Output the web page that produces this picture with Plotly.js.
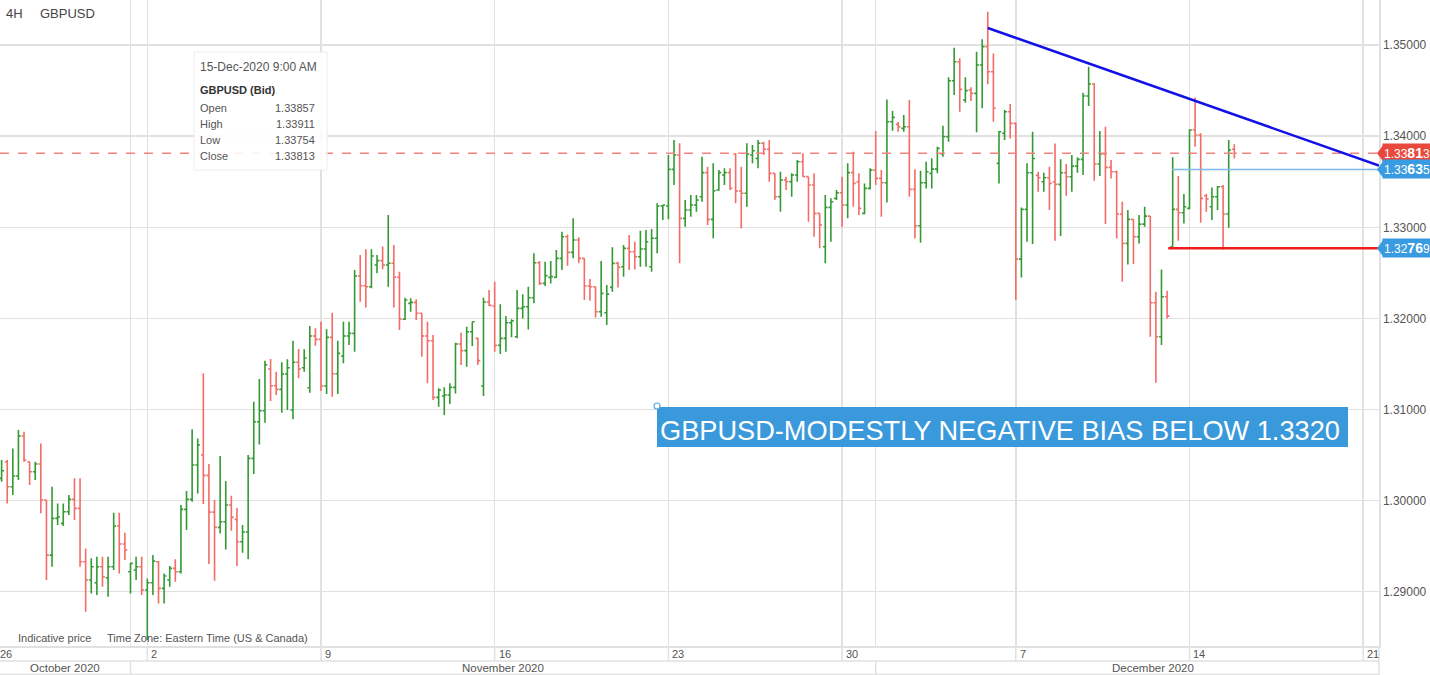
<!DOCTYPE html>
<html><head><meta charset="utf-8">
<script src="https://cdn.plot.ly/plotly-3.0.1.min.js"></script>
<style>html,body{margin:0;padding:0;background:#fff;overflow:hidden}#chart{width:1430px;height:675px}</style>
</head><body><div id="chart"></div>
<script>
// ---------------- DATA ----------------
const symbol = 'GBPUSD';
const timeframe = '4H';
const firstSlot = 5;            // slot index of first bar (slot 0 = Mon 26 Oct 00:00, 31 slots per week)
const barsPerWeek = 31;
const open = [
 1.30244,1.30427,1.30152,1.30270,1.30709,1.30427,1.30317,1.30401,1.30006,1.29402,
 1.29805,1.29750,1.29878,1.30013,1.29915,1.29329,1.29128,1.29098,1.29274,1.29153,
 1.29274,1.29721,1.29523,1.29219,1.29238,1.29274,1.29018,1.29098,1.29329,1.29036,
 1.29128,1.29256,1.29219,1.29904,1.30013,1.30390,1.30500,1.30277,1.29874,1.29706,
 1.29768,1.29951,1.29794,1.29548,1.29655,1.30464,1.30866,1.30987,1.31444,1.31261,
 1.31221,1.31389,1.30994,1.31518,1.31459,1.31239,1.31807,1.31770,1.31258,1.31792,
 1.31393,1.31587,1.31807,1.31836,1.32466,1.32359,1.32348,1.32586,1.32634,1.32586,
 1.32605,1.32451,1.31990,1.32165,1.32176,1.32056,1.31807,1.31755,1.31133,1.31148,
 1.31159,1.31243,1.31719,1.31646,1.31854,1.31781,1.31258,1.32180,1.32136,1.31704,
 1.31781,1.31953,1.31799,1.32110,1.32128,1.32227,1.32611,1.32384,1.32450,1.32450,
 1.32659,1.32897,1.32725,1.32860,1.32659,1.32355,1.32348,1.32073,1.32062,1.32340,
 1.32604,1.32567,1.32769,1.32732,1.32677,1.32761,1.32567,1.32879,1.33234,1.33234,
 1.33636,1.33794,1.33098,1.33190,1.33245,1.33336,1.33600,1.33087,1.33409,1.33574,
 1.33600,1.33804,1.33398,1.33373,1.33794,1.33757,1.33922,1.33856,1.33592,1.33336,
 1.33519,1.33501,1.33574,1.33720,1.33556,1.33464,1.33153,1.32787,1.33219,1.33318,
 1.33380,1.33245,1.33600,1.33500,1.33153,1.33427,1.33628,1.33537,1.33489,1.34159,
 1.34130,1.34086,1.34104,1.33416,1.33017,1.33489,1.33592,1.33639,1.33804,1.33994,
 1.34609,1.34818,1.34397,1.34507,1.34470,1.34781,1.34983,1.34708,1.33702,1.34031,
 1.34269,1.34141,1.32651,1.33197,1.33599,1.33570,1.33500,1.33544,1.33500,1.33471,
 1.33599,1.33555,1.33672,1.33746,1.34441,1.34573,1.33694,1.33804,1.33658,1.33610,
 1.33146,1.32823,1.33087,1.32896,1.33035,1.33123,1.32172,1.31799,1.32238,1.32787,
 1.33197,1.33160,1.33208,1.34068,1.34013,1.33347,1.33226,1.33336,1.33445,1.33146,
 1.33857];
const high = [
 1.30445,1.30445,1.30573,1.30775,1.30756,1.30427,1.30427,1.30628,1.30006,1.30152,
 1.29969,1.29969,1.30061,1.30244,1.30244,1.29475,1.29366,1.29384,1.29384,1.29384,
 1.29867,1.29867,1.29647,1.29318,1.29384,1.29384,1.29146,1.29402,1.29336,1.29201,
 1.29281,1.29355,1.29951,1.30105,1.30782,1.30683,1.31397,1.30401,1.30006,1.30489,
 1.30215,1.30054,1.29918,1.29732,1.30500,1.31086,1.31335,1.31536,1.31554,1.31415,
 1.31518,1.31551,1.31755,1.31664,1.31660,1.31917,1.31891,1.31964,1.31880,1.32063,
 1.31755,1.31964,1.31964,1.32531,1.32696,1.32758,1.32758,1.32696,1.32788,1.33135,
 1.32806,1.32513,1.32228,1.32220,1.32209,1.32056,1.31964,1.31818,1.31232,1.31243,
 1.31287,1.31734,1.31843,1.31909,1.31964,1.31788,1.32228,1.32312,1.32403,1.32154,
 1.32026,1.31990,1.32311,1.32264,1.32348,1.32714,1.32630,1.32622,1.32630,1.32750,
 1.32952,1.32922,1.33098,1.32890,1.32659,1.32432,1.32348,1.32630,1.32366,1.32780,
 1.32622,1.32805,1.32915,1.32842,1.32963,1.32970,1.32981,1.33263,1.33245,1.33794,
 1.33958,1.33922,1.33299,1.33354,1.33354,1.33775,1.33665,1.33702,1.33629,1.33647,
 1.33647,1.33812,1.33665,1.33922,1.33903,1.33958,1.33940,1.33958,1.33592,1.33611,
 1.33556,1.33592,1.33739,1.33812,1.33556,1.33592,1.33153,1.33354,1.33318,1.33409,
 1.33556,1.33702,1.33830,1.33592,1.33482,1.33647,1.34057,1.33628,1.34404,1.34276,
 1.34159,1.34232,1.34397,1.33636,1.33621,1.33720,1.33757,1.33885,1.34115,1.34646,
 1.34972,1.34855,1.34646,1.34536,1.34928,1.35063,1.35367,1.34909,1.34057,1.34287,
 1.34353,1.34148,1.33218,1.33702,1.34049,1.33610,1.33599,1.33665,1.33921,1.33746,
 1.33694,1.33793,1.33768,1.34478,1.34763,1.34580,1.34057,1.34104,1.33738,1.33621,
 1.33281,1.33189,1.33087,1.33134,1.33226,1.33123,1.32293,1.32538,1.32304,1.33768,
 1.33563,1.33365,1.34075,1.34426,1.34031,1.33365,1.33438,1.33453,1.33464,1.33958,
 1.33911];
const low = [
 1.30207,1.29969,1.30061,1.30226,1.30427,1.30171,1.30226,1.29860,1.29128,1.29274,
 1.29732,1.29721,1.29841,1.29786,1.29274,1.28780,1.28981,1.28963,1.29054,1.28945,
 1.29238,1.29201,1.29347,1.28981,1.29128,1.28963,1.28469,1.28963,1.28871,1.28871,
 1.29054,1.29109,1.29201,1.29677,1.29988,1.30079,1.29962,1.29303,1.29120,1.29640,
 1.29464,1.29669,1.29281,1.29428,1.29355,1.30292,1.30617,1.30855,1.31093,1.31159,
 1.30965,1.30994,1.30892,1.31342,1.31415,1.31185,1.31701,1.31203,1.31170,1.31141,
 1.31170,1.31507,1.31708,1.31635,1.32184,1.32121,1.32330,1.32495,1.32539,1.32348,
 1.32121,1.31873,1.31982,1.32074,1.31982,1.31580,1.31287,1.31104,1.31031,1.30939,
 1.31060,1.31177,1.31488,1.31470,1.31697,1.31488,1.31148,1.32136,1.31635,1.31609,
 1.31635,1.31792,1.31781,1.32000,1.31879,1.32165,1.32366,1.32355,1.32384,1.32447,
 1.32531,1.32578,1.32659,1.32604,1.32201,1.32194,1.32011,1.32018,1.31927,1.32293,
 1.32340,1.32458,1.32531,1.32538,1.32567,1.32567,1.32513,1.32714,1.33080,1.33087,
 1.33464,1.32604,1.33007,1.33116,1.33171,1.33281,1.33025,1.32879,1.33402,1.33464,
 1.33409,1.33263,1.32988,1.33226,1.33702,1.33647,1.33794,1.33501,1.33299,1.33171,
 1.33409,1.33336,1.33501,1.33556,1.33062,1.32897,1.32769,1.32604,1.32842,1.33299,
 1.33007,1.33098,1.33226,1.33134,1.33142,1.33416,1.33464,1.33116,1.33273,1.34060,
 1.34049,1.34049,1.33336,1.32878,1.32830,1.33427,1.33427,1.33592,1.33775,1.33940,
 1.34452,1.34269,1.34368,1.34386,1.34042,1.34306,1.34569,1.34159,1.33482,1.33958,
 1.33976,1.32201,1.32450,1.32842,1.32816,1.33391,1.33391,1.33189,1.32853,1.32904,
 1.33347,1.33391,1.33599,1.33574,1.34331,1.33511,1.33563,1.33035,1.33537,1.32878,
 1.32402,1.32593,1.32596,1.32823,1.33006,1.31799,1.31293,1.31707,1.32000,1.32787,
 1.32853,1.33043,1.33197,1.33885,1.33050,1.33171,1.33079,1.33189,1.32757,1.32995,
 1.33754];
const close = [
 1.30328,1.30152,1.30270,1.30709,1.30445,1.30317,1.30401,1.30006,1.29402,1.29805,
 1.29820,1.29878,1.30013,1.29915,1.29329,1.29128,1.29274,1.29274,1.29164,1.29274,
 1.29721,1.29523,1.29457,1.29311,1.29274,1.29018,1.29098,1.29336,1.29036,1.29172,
 1.29256,1.29219,1.29904,1.30013,1.30390,1.30610,1.30277,1.29874,1.29706,1.29768,
 1.29951,1.29816,1.29548,1.29655,1.30464,1.30866,1.30987,1.31492,1.31261,1.31221,
 1.31389,1.31459,1.31518,1.31444,1.31565,1.31807,1.31770,1.31258,1.31792,1.31393,
 1.31616,1.31807,1.31836,1.32466,1.32359,1.32348,1.32685,1.32634,1.32586,1.32605,
 1.32451,1.31993,1.32202,1.32176,1.32056,1.31807,1.31755,1.31133,1.31214,1.31159,
 1.31243,1.31719,1.31646,1.31854,1.31964,1.31536,1.32180,1.32143,1.31704,1.31781,
 1.31953,1.31975,1.32110,1.32128,1.32227,1.32611,1.32384,1.32469,1.32458,1.32659,
 1.32897,1.32725,1.32860,1.32659,1.32355,1.32348,1.32073,1.32275,1.32267,1.32604,
 1.32560,1.32769,1.32732,1.32677,1.32761,1.32842,1.32879,1.33234,1.33245,1.33636,
 1.33794,1.33098,1.33190,1.33245,1.33299,1.33600,1.33087,1.33402,1.33600,1.33600,
 1.33428,1.33398,1.33373,1.33804,1.33841,1.33922,1.33856,1.33592,1.33336,1.33519,
 1.33500,1.33574,1.33720,1.33556,1.33464,1.33153,1.33025,1.33219,1.33281,1.33380,
 1.33245,1.33600,1.33482,1.33208,1.33427,1.33628,1.33537,1.33489,1.34159,1.34207,
 1.34104,1.34104,1.33416,1.33017,1.33489,1.33610,1.33639,1.33866,1.33994,1.34609,
 1.34818,1.34514,1.34500,1.34470,1.34781,1.34983,1.34708,1.34306,1.34049,1.34269,
 1.34141,1.32651,1.33197,1.33599,1.33756,1.33544,1.33544,1.33482,1.33471,1.33599,
 1.33555,1.33672,1.33746,1.34441,1.34573,1.33694,1.33804,1.33658,1.33610,1.33146,
 1.32823,1.33087,1.32896,1.33035,1.33123,1.32172,1.31799,1.32238,1.32025,1.33197,
 1.33160,1.33226,1.34068,1.34013,1.33317,1.33310,1.33336,1.33445,1.33146,1.33848,
 1.33813];
const weekLabels = ['26','2','9','16','23','30','7','14','21'];
const monthLabels = ['October 2020','November 2020','December 2020'];
const monthStartSlots = [28, 161];
const supportLevel = 1.32769;
const pivotLevel = 1.33635;
const trendStart = {slot: 181, price: 1.35188};
const trendEnd = {slot: 250.8, price: 1.33678};
const supportStartSlot = 213.2;
const pivotStartSlot = 213.9;
const headline = 'GBPUSD-MODESTLY NEGATIVE BIAS BELOW 1.3320';
const tooltipTime = '15-Dec-2020 9:00 AM';
const tooltipTitle = 'GBPUSD (Bid)';

// ---------------- GEOMETRY ----------------
const PW = 1379, PH = 646;
const BAR_PX = 173.7 / 31, X_OFF = 26.4;
const xr = [X_OFF / BAR_PX, (PW + X_OFF) / BAR_PX];
const yr = [1.28404, 1.35495];
const px = p => p / PW;                 // pixel x -> paper
const py = p => (PH - p) / PH;          // pixel y -> paper
const sx = s => (s * BAR_PX - X_OFF) / PW; // slot -> paper
const FONT = 'Arial, "Liberation Sans", sans-serif';

const xs = open.map((_, i) => firstSlot + i);
const last = open.length - 1;
const weekSlots = weekLabels.map((_, k) => k * barsPerWeek);

const trace = {
  type: 'ohlc', x: xs, open: open, high: high, low: low, close: close,
  increasing: {line: {color: '#339a33', width: 1.6}},
  decreasing: {line: {color: '#f26c68', width: 1.6}},
  tickwidth: 0.42, hoverinfo: 'skip'
};

const shapes = [];
const ann = [];
const grey = '#e1e1e1';

// axis-area structure
shapes.push({type:'line', xref:'paper', yref:'paper', x0:0, x1:1, y0:py(661), y1:py(661), line:{color:grey, width:1.5}});
shapes.push({type:'line', xref:'paper', yref:'paper', x0:0, x1:1, y0:py(674.5), y1:py(674.5), line:{color:grey, width:1.5}});
shapes.push({type:'line', xref:'paper', yref:'paper', x0:1, x1:1, y0:py(646), y1:py(675), line:{color:grey, width:1.5}});
weekSlots.forEach((s, k) => {
  const p = sx(s);
  if (p > 0 && p <= 1) shapes.push({type:'line', xref:'paper', yref:'paper', x0:p, x1:p, y0:py(646), y1:py(661), line:{color:grey, width:1.5}});
  ann.push({xref:'paper', yref:'paper', x: Math.max(p, px(-2)), y: py(654), xanchor:'left', yanchor:'middle', xshift: p > 0 ? 2 : 0,
    text: weekLabels[k], showarrow:false, font:{family:FONT, size:11, color:'#555'}});
});
monthStartSlots.forEach(s => {
  shapes.push({type:'line', xref:'paper', yref:'paper', x0:sx(s), x1:sx(s), y0:py(661), y1:py(675), line:{color:grey, width:1.5}});
});
const monthBounds = [0, ...monthStartSlots.map(s => sx(s)), 1430 / PW];
monthLabels.forEach((m, i) => {
  ann.push({xref:'paper', yref:'paper', x:(monthBounds[i] + monthBounds[i+1]) / 2, y: py(668), xanchor:'center', yanchor:'middle',
    text:m, showarrow:false, font:{family:FONT, size:11.5, color:'#555'}});
});

// price lines
shapes.push({type:'line', xref:'paper', yref:'y', x0:0, x1:1, y0:close[last], y1:close[last], line:{color:'#f3837e', width:1.3, dash:'dash'}});
shapes.push({type:'line', xref:'x', yref:'y', x0:pivotStartSlot, x1:xr[1], y0:pivotLevel, y1:pivotLevel, line:{color:'#7db9ea', width:1.5}});
shapes.push({type:'line', xref:'x', yref:'y', x0:supportStartSlot, x1:xr[1], y0:supportLevel, y1:supportLevel, line:{color:'#f01c1c', width:2.5}});
shapes.push({type:'line', xref:'x', yref:'y', x0:trendStart.slot, x1:trendEnd.slot, y0:trendStart.price, y1:trendEnd.price, line:{color:'#1212e6', width:2.5}});

// right price labels
function pipText(v){ const s = v.toFixed(5); return s.slice(0,4) + '<b><span style="font-size:14px">' + s.slice(4,6) + '</span></b>' + s.slice(6); }
const hTri = 8 / 9110;
[[close[last], '#e8493c'], [pivotLevel, '#3a9ce0'], [supportLevel, '#3a9ce0']].forEach(([v, c]) => {
  shapes.push({type:'path', xref:'paper', yref:'y', path:`M ${px(1377)},${v} L ${px(1383)},${v+hTri} L ${px(1383)},${v-hTri} Z`, fillcolor:c, line:{width:0}});
  ann.push({xref:'paper', yref:'y', x:px(1382), y:v, xanchor:'left', yanchor:'middle', text:pipText(v), showarrow:false,
    bgcolor:c, borderpad:1, font:{family:FONT, size:12, color:'#fff'}});
});

// headline box
shapes.push({type:'rect', xref:'paper', yref:'paper', x0:px(657), x1:px(1348), y0:py(447), y1:py(407), fillcolor:'#3a99db', line:{width:0}});
shapes.push({type:'circle', xref:'paper', yref:'paper', x0:px(654), x1:px(660), y0:py(409), y1:py(403), fillcolor:'#ffffff', line:{color:'#5da5e0', width:1.2}});
ann.push({xref:'paper', yref:'paper', x:px(658), y:py(430), xanchor:'left', yanchor:'middle', text:headline, showarrow:false,
  font:{family:FONT, size:27.2, color:'#ffffff'}});

// header
ann.push({xref:'paper', yref:'paper', x:px(4), y:py(13), xanchor:'left', yanchor:'middle', text:timeframe, showarrow:false, font:{family:FONT, size:13, color:'#444'}});
ann.push({xref:'paper', yref:'paper', x:px(38), y:py(13), xanchor:'left', yanchor:'middle', text:symbol, showarrow:false, font:{family:FONT, size:13, color:'#444'}});

// footer
ann.push({xref:'paper', yref:'paper', x:px(16), y:py(638), xanchor:'left', yanchor:'middle', text:'Indicative price', showarrow:false, font:{family:FONT, size:11, color:'#555'}});
ann.push({xref:'paper', yref:'paper', x:px(105), y:py(638), xanchor:'left', yanchor:'middle', text:'Time Zone: Eastern Time (US & Canada)', showarrow:false, font:{family:FONT, size:11, color:'#555'}});

// tooltip
shapes.push({type:'rect', xref:'paper', yref:'paper', x0:px(194), x1:px(327), y0:py(170), y1:py(52), fillcolor:'rgba(255,255,255,0.88)', line:{color:'#ececec', width:1}});
ann.push({xref:'paper', yref:'paper', x:px(198), y:py(67), xanchor:'left', yanchor:'middle', text:tooltipTime, showarrow:false, font:{family:FONT, size:12, color:'#555'}});
ann.push({xref:'paper', yref:'paper', x:px(198), y:py(90), xanchor:'left', yanchor:'middle', text:'<b>' + tooltipTitle + '</b>', showarrow:false, font:{family:FONT, size:11, color:'#333'}});
[['Open', open[last]], ['High', high[last]], ['Low', low[last]], ['Close', close[last]]].forEach(([k, v], i) => {
  const yy = 108 + 16 * i;
  ann.push({xref:'paper', yref:'paper', x:px(198), y:py(yy), xanchor:'left', yanchor:'middle', text:k, showarrow:false, font:{family:FONT, size:11, color:'#555'}});
  ann.push({xref:'paper', yref:'paper', x:px(317), y:py(yy), xanchor:'right', yanchor:'middle', text:v.toFixed(5), showarrow:false, font:{family:FONT, size:11, color:'#555'}});
});

const layout = {
  width: 1430, height: 675,
  margin: {l:0, r:1430 - PW, t:0, b:675 - PH},
  paper_bgcolor: '#ffffff', plot_bgcolor: '#ffffff',
  showlegend: false, hovermode: false, dragmode: false,
  font: {family: FONT},
  xaxis: {
    type:'linear', range:xr, tickvals:[...weekSlots, ...monthStartSlots], showticklabels:false, ticks:'',
    showgrid:true, gridcolor:grey, gridwidth:1.5, zeroline:false,
    showline:true, linecolor:grey, linewidth:1.5, rangeslider:{visible:false}, fixedrange:true
  },
  yaxis: {
    side:'right', range:yr, tick0:1.28, dtick:0.01, tickformat:'.5f', ticks:'', ticklabelstandoff:0,
    tickfont:{family:FONT, size:12, color:'#555'},
    showgrid:true, gridcolor:grey, gridwidth:1.5, zeroline:false,
    showline:true, linecolor:grey, linewidth:1.5, fixedrange:true
  },
  shapes: shapes,
  annotations: ann
};

Plotly.newPlot('chart', [trace], layout, {displayModeBar:false, staticPlot:true});
</script>
</body></html>
